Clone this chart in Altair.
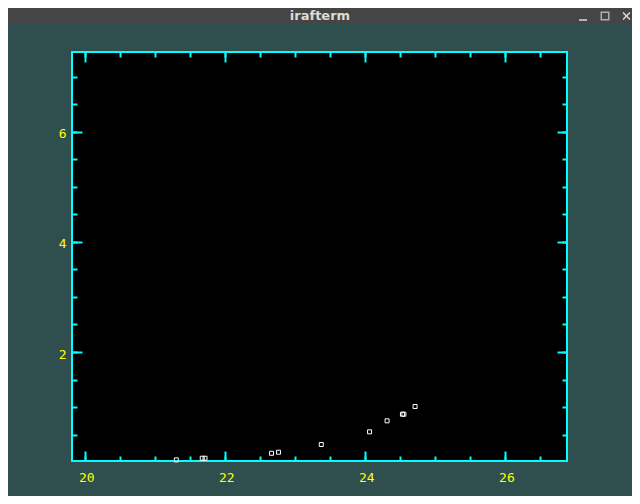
import altair as alt
import pandas as pd

# points
mag = [21.30, 21.67, 21.71, 22.66, 22.76, 23.37, 24.06, 24.31, 24.53, 24.55, 24.71]
err = [0.04, 0.07, 0.07, 0.16, 0.18, 0.32, 0.55, 0.75, 0.87, 0.87, 1.01]

x_major = [20, 22, 24, 26]
x_minor = [20, 20.5, 21, 21.5, 22, 22.5, 23, 23.5, 24, 24.5, 25, 25.5, 26, 26.5]
y_major = [2, 4, 6]
y_minor = [0.5, 1, 1.5, 2, 2.5, 3, 3.5, 4, 4.5, 5, 5.5, 6, 6.5, 7]

CYAN = '#00ffff'
YELLOW = '#ffff00'
df = pd.DataFrame({'mag': mag, 'err': err})
one = pd.DataFrame({'k': [0]})

xscale = alt.Scale(domain=[19.81, 26.88], nice=False, zero=False)
yscale = alt.Scale(domain=[0.02, 7.45], nice=False, zero=False)


def label_axis(orient, values, pad, shift):
    return alt.Axis(orient=orient, values=values, ticks=False, tickSize=0, domain=False, grid=False,
                    labelColor=YELLOW, labelFont='DejaVu Sans Mono', labelFontSize=13,
                    labelPadding=pad, labelOffset=shift)


def tick_axis(orient, values, size):
    # ticks point inward: pull the axis into the plot by its own tick length
    return alt.Axis(orient=orient, values=values, labels=False, domain=False, grid=False,
                    tickSize=size, tickWidth=2, tickColor=CYAN, offset=-size)


def layer(x_axis, y_axis, opacity=0):
    return alt.Chart(df).mark_point(
        shape='square', size=16, filled=False, color='white', strokeWidth=1, opacity=opacity
    ).encode(
        x=alt.X('mag:Q', scale=xscale, axis=x_axis, title=None),
        y=alt.Y('err:Q', scale=yscale, axis=y_axis, title=None),
    )


points = layer(label_axis('bottom', x_major, 10, 1), label_axis('left', y_major, 6, 2), opacity=1)
major_in = layer(tick_axis('bottom', x_major, 10), tick_axis('left', y_major, 10))
minor_in = layer(tick_axis('bottom', x_minor, 5), tick_axis('left', y_minor, 5))
major_out = layer(tick_axis('top', x_major, 10), tick_axis('right', y_major, 10))
minor_out = layer(tick_axis('top', x_minor, 5), tick_axis('right', y_minor, 5))

# window title bar
bar = alt.Chart(one).mark_rect(color='#454545').encode(
    x=alt.value(-64), x2=alt.value(560), y=alt.value(-44), y2=alt.value(-28))
title = alt.Chart(one).mark_text(
    text='irafterm', font='DejaVu Sans', fontWeight='bold', fontSize=13, color='#dfdbd2'
).encode(x=alt.value(248), y=alt.value(-36))
minimize = alt.Chart(one).mark_rule(color='#dcdcdc', strokeWidth=1.5).encode(
    x=alt.value(507), x2=alt.value(515), y=alt.value(-32))
maximize = alt.Chart(one).mark_point(
    shape='square', size=56, filled=False, color='#dcdcdc', strokeWidth=1.5
).encode(x=alt.value(533), y=alt.value(-36))
close_a = alt.Chart(one).mark_rule(color='#dcdcdc', strokeWidth=1.5).encode(
    x=alt.value(551), x2=alt.value(558), y=alt.value(-39.5), y2=alt.value(-32.5))
close_b = alt.Chart(one).mark_rule(color='#dcdcdc', strokeWidth=1.5).encode(
    x=alt.value(551), x2=alt.value(558), y=alt.value(-32.5), y2=alt.value(-39.5))

chart = alt.layer(
    bar, title, minimize, maximize, close_a, close_b,
    minor_in, major_in, minor_out, major_out, points
).resolve_axis(
    x='independent', y='independent'
).properties(
    width=495, height=409,
    padding={'left': 64, 'top': 44, 'right': 65, 'bottom': 35},
    autosize=alt.AutoSizeParams(type='none'),
    background='#2f4f4f',
).configure_view(
    fill='#000000', stroke=CYAN, strokeWidth=2
)

chart.save('out.html', embed_options={'renderer': 'svg', 'actions': False})
